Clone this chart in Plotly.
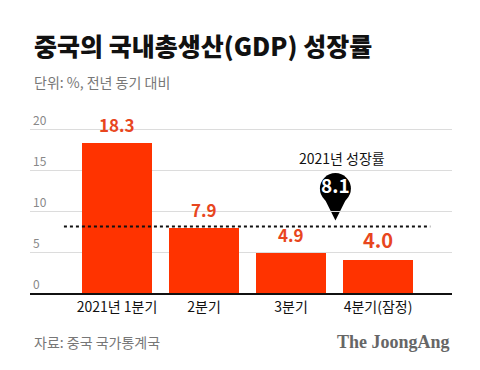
import plotly.graph_objects as go

categories = ["2021년 1분기", "2분기", "3분기", "4분기(잠정)"]
values = [18.3, 7.9, 4.9, 4.0]
value_labels = ["18.3", "7.9", "4.9", "4.0"]
annual_growth = 8.1
annual_label = "8.1"
y_ticks = [0, 5, 10, 15, 20]

BAR = "#ff3300"
LABEL = "#e8461e"
FONT = "Noto Sans CJK KR"

# layout geometry
W, H = 480, 370
ML, MR, MT, MB = 30, 28, 110, 77
XR = [-1.0, 3.85]
YR = [0, 22.32]
px_x = (W - ML - MR) / (XR[1] - XR[0])
px_y = (H - MT - MB) / (YR[1] - YR[0])

pin_x = 2.51
pin_cy = 38  # px above the line

fig = go.Figure()
fig.add_trace(go.Bar(
    x=list(range(len(categories))), y=values,
    marker=dict(color=BAR, line=dict(width=0)),
    width=0.805, hoverinfo="skip",
))
# pin head
fig.add_trace(go.Scatter(
    x=[pin_x], y=[annual_growth + pin_cy / px_y], mode="markers+text",
    marker=dict(symbol="circle", size=31, color="#000", line=dict(width=0)),
    text=[annual_label], textposition="middle center",
    textfont=dict(family=FONT, size=19, color="white", weight="bold"),
    hoverinfo="skip", cliponaxis=False,
))

annotations = []
for i, (v, lab) in enumerate(zip(values, value_labels)):
    annotations.append(dict(
        x=i, y=v, xref="x", yref="y", text=lab, showarrow=False,
        yanchor="bottom", yshift=4,
        font=dict(family=FONT, size=20 if i == 3 else 17, color=LABEL, weight="bold"),
    ))

annotations.append(dict(
    x=2.586, y=0.738, xref="x", yref="paper", text="2021년 성장률", showarrow=False,
    yanchor="middle", font=dict(family=FONT, size=14, color="#111"),
))

annotations += [
    dict(x=0.0047, y=1.355, xref="paper", yref="paper", xanchor="left", yanchor="middle",
         text="중국의 국내총생산(GDP) 성장률", showarrow=False,
         font=dict(family=FONT, size=25, color="#111", weight=900)),
    dict(x=0.0047, y=1.153, xref="paper", yref="paper", xanchor="left", yanchor="middle",
         text="단위: %, 전년 동기 대비", showarrow=False,
         font=dict(family=FONT, size=14, color="#777")),
    dict(x=0.0047, y=-0.268, xref="paper", yref="paper", xanchor="left", yanchor="middle",
         text="자료: 중국 국가통계국", showarrow=False,
         font=dict(family=FONT, size=14, color="#777")),
    dict(x=1.0, y=-0.268, xref="paper", yref="paper", xanchor="right", yanchor="middle",
         text="The JoongAng", showarrow=False,
         font=dict(family="Liberation Serif", size=18, color="#666", weight="bold")),
]


def pt(dx, dy):
    """pixel offset from the pin anchor -> data coords"""
    return f"{pin_x + dx / px_x:.5f},{annual_growth + dy / px_y:.5f}"


tri_path = f"M {pt(-12.5, 31)} L {pt(0, 6)} L {pt(12.5, 31)} Z"

shapes = [
    dict(type="line", xref="x", yref="y", x0=-0.61, x1=3.6, y0=annual_growth, y1=annual_growth,
         line=dict(color="#111", width=2, dash="dot")),
    dict(type="path", xref="x", yref="y", path=tri_path, layer="below",
         fillcolor="#000", line=dict(width=0)),
]

fig.update_layout(
    width=W, height=H,
    margin=dict(l=ML, r=MR, t=MT, b=MB),
    paper_bgcolor="white", plot_bgcolor="white",
    showlegend=False, bargap=0,
    annotations=annotations, shapes=shapes,
    xaxis=dict(
        range=XR, tickmode="array", tickvals=list(range(len(categories))),
        ticktext=categories, showgrid=False, zeroline=False,
        showline=True, linecolor="#111", linewidth=1.5, ticks="",
        tickfont=dict(family=FONT, size=14, color="#111"),
    ),
    yaxis=dict(
        range=YR, tickvals=y_ticks, ticktext=[str(t) for t in y_ticks],
        ticklabelposition="inside top", showgrid=True, gridcolor="#dcdcdc", gridwidth=1,
        zeroline=False, showline=False, ticks="",
        tickfont=dict(family=FONT, size=12, color="#888"),
    ),
)

fig.write_html("out.html", config={"displayModeBar": False},
               post_script="document.body.style.margin='0';")
